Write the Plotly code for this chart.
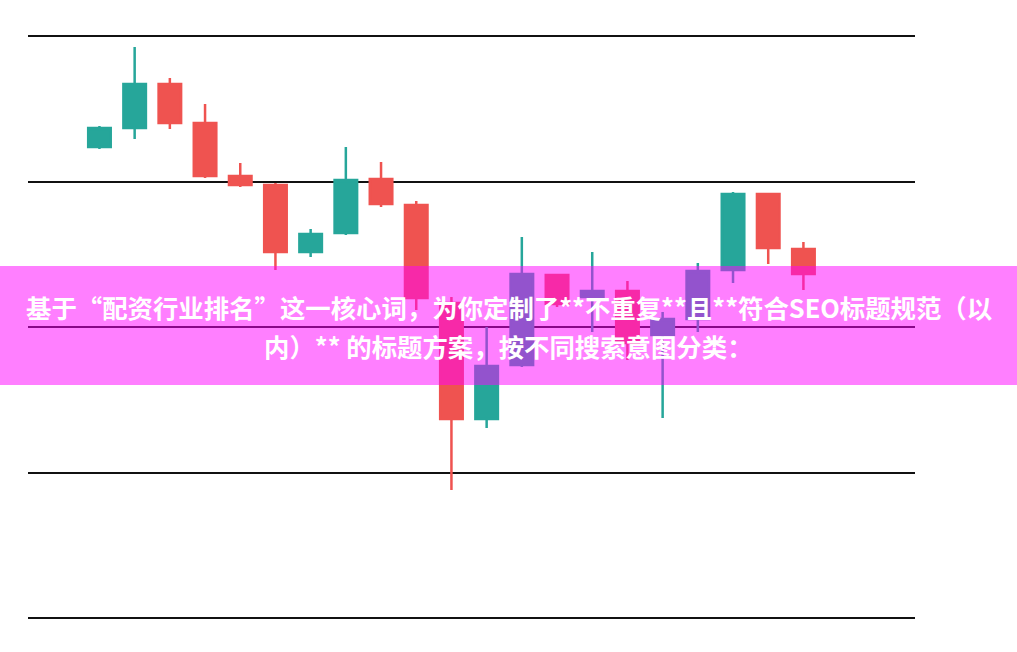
import plotly.graph_objects as go

# ---- data ----
days = [f"D{i+1}" for i in range(21)]
open_ = [132.37, 133.68, 136.70, 134.02, 130.38, 129.76, 125.15, 126.46, 130.17, 128.38,
         121.65, 113.68, 117.39, 123.57, 122.06, 122.47, 119.45, 120.55, 123.92, 129.14, 125.36]
high = [133.81, 139.24, 137.11, 135.33, 131.27, 129.90, 126.74, 132.37, 131.34, 128.66,
        122.06, 120.00, 126.19, 123.57, 125.15, 123.16, 121.03, 124.40, 129.28, 129.21, 125.84]
low = [132.23, 132.92, 133.61, 130.24, 129.62, 123.92, 124.81, 126.32, 128.25, 121.17,
       108.80, 113.06, 117.25, 121.37, 119.66, 117.73, 113.75, 119.66, 123.02, 124.33, 122.54]
close = [133.68, 136.70, 134.02, 130.38, 129.76, 125.15, 126.39, 130.10, 128.45, 121.99,
         113.68, 117.32, 123.64, 121.58, 122.47, 118.90, 120.55, 123.85, 129.14, 125.43, 123.64]

banner_lines = [
    "基于“配资行业排名”这一核心词，为你定制了**不重复**且**符合SEO标题规范（以",
    "内）** 的标题方案，按不同搜索意图分类：",
]

W, H = 1017, 652
# plot area spans x 28..915; gridlines at y 36 (140) .. 618 (100)
px_per_unit = (618 - 36) / 40.0
pad = 2 / px_per_unit
L, R, T, B = 28, 102, 34, 32
plot_h = H - T - B
plot_w = W - L - R
y_lo, y_hi = 100 - pad, 140 + pad

fig = go.Figure()
fig.add_trace(go.Candlestick(
    x=days, open=open_, high=high, low=low, close=close,
    increasing=dict(line=dict(color="#26a69a", width=2.5), fillcolor="#26a69a"),
    decreasing=dict(line=dict(color="#ef5350", width=2.5), fillcolor="#ef5350"),
    whiskerwidth=0,
    hoverinfo="skip",
    showlegend=False,
))

def py(ypix):
    return (H - B - ypix) / plot_h

fig.add_shape(type="rect", xref="paper", yref="paper",
              x0=-0.1, x1=1.2, y0=py(385), y1=py(266),
              fillcolor="rgba(255,0,255,0.5)", line=dict(width=0), layer="above")

cx = (W / 2 - L) / plot_w
for txt, ypix in zip(banner_lines, [307, 346]):
    fig.add_annotation(text=txt, xref="paper", yref="paper", x=cx, y=py(ypix),
                       xanchor="center", yanchor="middle", showarrow=False,
                       font=dict(family="Noto Sans CJK SC", size=25.4, color="white", weight=700))

fig.update_layout(
    width=W, height=H,
    margin=dict(l=L, r=R, t=T, b=B),
    paper_bgcolor="white", plot_bgcolor="white",
    boxgap=0.36, boxgroupgap=0,
    xaxis=dict(type="category", range=[-2.03, 23.17], showgrid=False, showticklabels=False,
               zeroline=False, showline=False, rangeslider=dict(visible=False), fixedrange=True),
    yaxis=dict(range=[y_lo, y_hi], dtick=10, tick0=100, showgrid=True, gridcolor="#111111",
               gridwidth=2, showticklabels=False, zeroline=False, showline=False, fixedrange=True),
)

fig.write_html("out.html", config={"displayModeBar": False},
               post_script="document.body.style.margin='0';")
